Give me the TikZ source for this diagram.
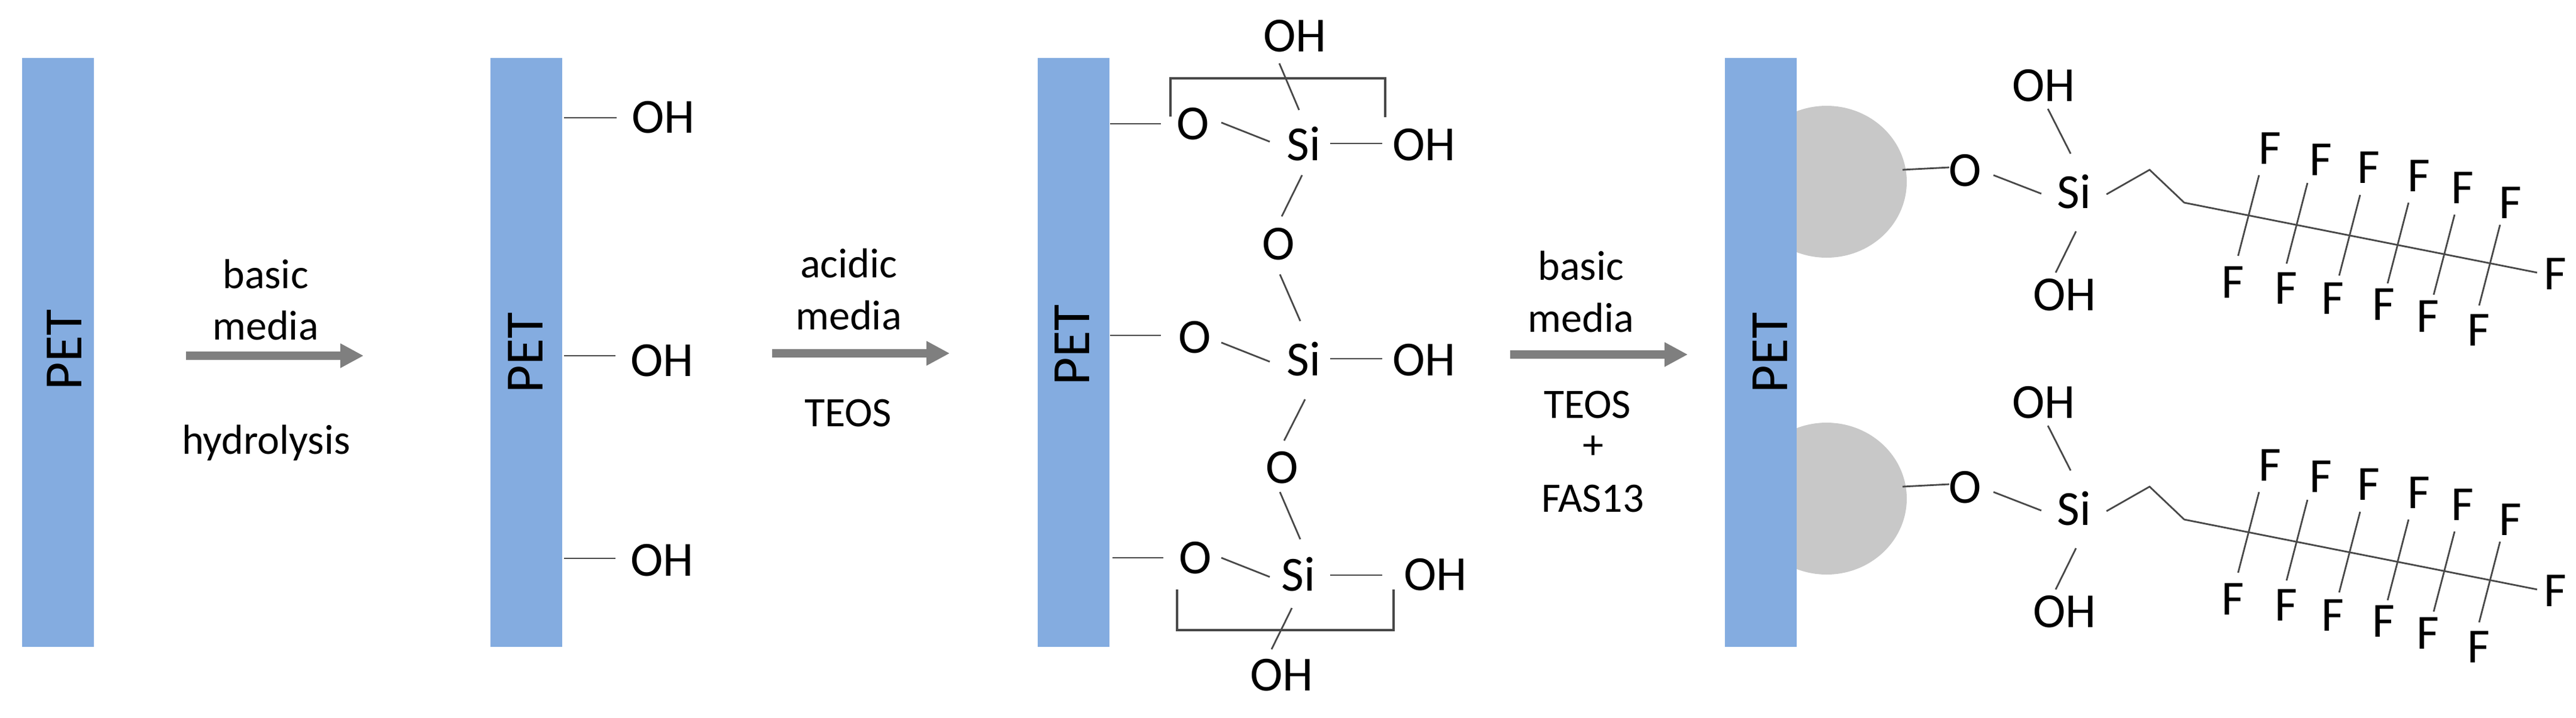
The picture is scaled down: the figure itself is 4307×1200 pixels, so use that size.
\documentclass[tikz,border=0pt]{standalone}
\usepackage{fontspec}
\setmainfont{Carlito}
\usetikzlibrary{arrows.meta}
\usetikzlibrary{shapes.geometric}
\definecolor{petblue}{HTML}{84ACE0}
\definecolor{blobgray}{HTML}{C8C8C8}
\definecolor{arrowgray}{HTML}{7F7F7F}
\definecolor{bondgray}{HTML}{484848}
\newcommand{\chemsize}{\fontsize{20.5}{24}\selectfont}
\newcommand{\lblsize}{\fontsize{17.5}{21}\selectfont}
\newcommand{\petsize}{\fontsize{22.5}{27}\selectfont}
\tikzset{
  petbar/.style={rectangle,fill=petblue,draw=none,inner sep=0pt,minimum width=30pt,minimum height=246.25pt},
  petlbl/.style={rotate=90,font=\petsize,inner sep=0pt,text height=14.4pt,text depth=0pt},
  chem/.style={font=\chemsize,inner sep=0pt,text height=13.2pt,text depth=0pt},
  lbl/.style={font=\lblsize,inner sep=0pt,anchor=base},
  blob/.style={ellipse,fill=blobgray,draw=none,inner sep=0pt,minimum width=67pt,minimum height=63.5pt},
  bond/.style={draw=bondgray,line width=.7pt},
  bracket/.style={draw=bondgray,line width=.8pt,line join=miter},
  procarrow/.style={draw=arrowgray,line width=3.5pt,-{Triangle[length=9.75pt,width=9.6pt]}}
}

\begin{document}
\begin{tikzpicture}[x=.25pt,y=-.25pt]
  \useasboundingbox (0,0) rectangle (4307,1200);

  % substrate 1
  \node[petbar] (pet1) at (96.5,589.5) {};
  \node[petlbl] (pet1t) at (108,585) {PET};

  % step 1
  \coordinate (arr1a) at (311,595);
  \coordinate (arr1b) at (608,595);
  \draw[procarrow] (arr1a) -- (arr1b);
  \node[lbl] (basic1) at (444,482) {basic};
  \node[lbl] (media1) at (444,568) {media};
  \node[lbl] (hydro) at (445,759) {hydrolysis};

  % substrate 2
  \node[petbar] (pet2) at (880,589.5) {};
  \node[petlbl] (pet2t) at (879,590) {PET};
  \node[chem] (oh21) at (1109,196) {OH};
  \node[chem] (oh22) at (1107,603) {OH};
  \node[chem] (oh23) at (1107,937) {OH};
  \foreach \n/\a/\b/\c in {oh21/-166/-78/1,oh22/-164/-78/-8,oh23/-164/-78/-3}
    \draw[bond] ([shift={(\a,\c)}]\n.center) -- ([shift={(\b,\c)}]\n.center);

  % step 2
  \coordinate (arr2a) at (1291,591);
  \coordinate (arr2b) at (1588,591);
  \draw[procarrow] (arr2a) -- (arr2b);
  \node[lbl] (acidic) at (1419,464) {acidic};
  \node[lbl] (media2) at (1419,551) {media};
  \node[lbl] (teos2) at (1418,713) {TEOS};

  % substrate 3
  \node[petbar] (pet3) at (1795,589.5) {};
  \node[petlbl] (pet3t) at (1793,577) {PET};
  \node[chem] (ohtop) at (2165,60) {OH};
  \node[chem] (o1) at (1995,207) {O};
  \node[chem] (si1) at (2180,242) {Si};
  \node[chem] (oh1) at (2381,242) {OH};
  \node[chem] (o12) at (2138,408) {O};
  \node[chem] (o2) at (1998,564) {O};
  \node[chem] (si2) at (2180,602) {Si};
  \node[chem] (oh2) at (2381,602) {OH};
  \node[chem] (o23) at (2144,782) {O};
  \node[chem] (o3) at (1999,933) {O};
  \node[chem] (si3) at (2171,962) {Si};
  \node[chem] (oh3) at (2400,961) {OH};
  \node[chem] (ohbot) at (2143,1129) {OH};

  \draw[bond] ([shift={(0,-382.5)}]pet3.east) -- ([shift={(-54,0)}]o1.center);
  \draw[bond] ([shift={(0,-28.5)}]pet3.east) -- ([shift={(-57,-3)}]o2.center);
  \draw[bond] ([shift={(4,343.5)}]pet3.east) -- ([shift={(-54,0)}]o3.center);
  \draw[bond] ([shift={(47,-2)}]o1.center) -- ([shift={(-57,-5)}]si1.center);
  \draw[bond] ([shift={(44,9)}]o2.center) -- ([shift={(-57,3)}]si2.center);
  \draw[bond] ([shift={(43,0)}]o3.center) -- ([shift={(-48,3)}]si3.center);
  \draw[bond] ([shift={(44,-2)}]si1.center) -- ([shift={(-70,-2)}]oh1.center);
  \draw[bond] ([shift={(44,-2)}]si2.center) -- ([shift={(-70,-2)}]oh2.center);
  \draw[bond] ([shift={(53,0)}]si3.center) -- ([shift={(-89,1)}]oh3.center);
  \draw[bond] ([shift={(-26,46)}]ohtop.center) -- ([shift={(-8,-58)}]si1.center);
  \draw[bond] ([shift={(-3,51)}]si1.center) -- ([shift={(5,-46)}]o12.center);
  \draw[bond] ([shift={(2,51)}]o12.center) -- ([shift={(-6,-65)}]si2.center);
  \draw[bond] ([shift={(2,66)}]si2.center) -- ([shift={(3,-45)}]o23.center);
  \draw[bond] ([shift={(-4,41)}]o23.center) -- ([shift={(3,-60)}]si3.center);
  \draw[bond] ([shift={(-11,55)}]si3.center) -- ([shift={(-17,-43)}]ohbot.center);

  % brackets
  \coordinate (brk1a) at (1957,195);
  \coordinate (brk1b) at (2316,196);
  \draw[bracket] (brk1a) |- (2316,131) -- (brk1b);
  \coordinate (brk3a) at (1968,986);
  \coordinate (brk3b) at (2330,986);
  \draw[bracket] (brk3a) |- (2330,1054) -- (brk3b);

  % step 3
  \coordinate (arr3a) at (2525,593);
  \coordinate (arr3b) at (2822,593);
  \draw[procarrow] (arr3a) -- (arr3b);
  \node[lbl] (basic3) at (2643,468) {basic};
  \node[lbl] (media3) at (2643,555) {media};
  \node[lbl] (teos3) at (2654,699) {TEOS};
  \node[lbl] (plus) at (2664,767) {+};
  \node[lbl] (fas) at (2663,856) {FAS13};

  % particles with the fluorinated chains
  \foreach \rw/\dy in {a/0,b/530} {
    \node[blob] (\rw-blob) at (3054,304+\dy) {};
    \node[chem] (\rw-o) at (3286,285+\dy) {O};
    \node[chem] (\rw-si) at (3468,322+\dy) {Si};
    \node[chem] (\rw-oht) at (3417,143+\dy) {OH};
    \node[chem] (\rw-ohb) at (3452,493+\dy) {OH};
    \node[chem] (\rw-fe) at (4272,458+\dy) {F};
    \coordinate (\rw-k1) at (3594,284+\dy);
    \coordinate (\rw-k2) at (3652,339+\dy);
    \draw[bond] ([shift={(127,-20)}]\rw-blob.center) -- ([shift={(-27,-5)}]\rw-o.center);
    \draw[bond] ([shift={(47,8)}]\rw-o.center) -- ([shift={(-55,2)}]\rw-si.center);
    \draw[bond] ([shift={(7,39)}]\rw-oht.center) -- ([shift={(-6,-65)}]\rw-si.center);
    \draw[bond] ([shift={(3,65)}]\rw-si.center) -- ([shift={(-15,-37)}]\rw-ohb.center);
    \draw[bond] ([shift={(54,3)}]\rw-si.center) -- (\rw-k1) -- (\rw-k2) -- ([shift={(-30,-2)}]\rw-fe.center);
    \foreach \i/\tx/\ty/\bx/\by/\ta/\tb/\ba/\bb in {
        1/3795/248/3733/472/-18/45/9/-44,
        2/3880/267/3822/482/-22/39/1/-41,
        3/3960/280/3900/499/-14/46/11/-38,
        4/4044/294/3985/509/-17/45/7/-35,
        5/4117/314/4059/529/-13/45/10/-36,
        6/4197/339/4144/552/-17/37/1/-41} {
      \node[chem] (\rw-ft\i) at (\tx,\ty+\dy) {F};
      \node[chem] (\rw-fb\i) at (\bx,\by+\dy) {F};
      \draw[bond] ([shift={(\ta,\tb)}]\rw-ft\i.center) -- ([shift={(\ba,\bb)}]\rw-fb\i.center);
    }
  }

  % substrate 4
  \node[petbar] (pet4) at (2944,589.5) {};
  \node[petlbl] (pet4t) at (2960,590) {PET};
\end{tikzpicture}
\end{document}
